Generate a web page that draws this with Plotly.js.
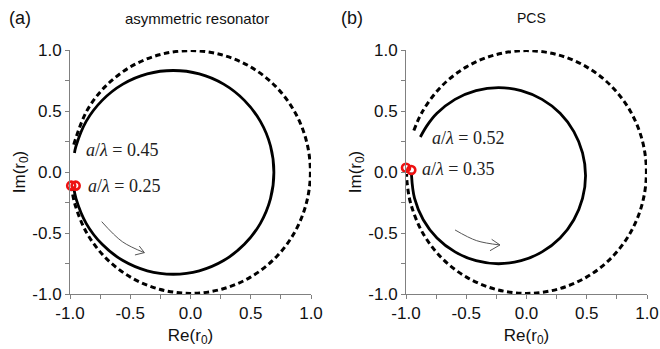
<!DOCTYPE html>
<html>
<head>
<meta charset="utf-8">
<script src="https://cdn.plot.ly/plotly-3.0.1.min.js"></script>
<style>html,body{margin:0;padding:0;background:#fff;}#chart{width:660px;height:349px;}</style>
</head>
<body>
<div id="chart"></div>
<script>
// ---- Data ----
// Panel (a): asymmetric resonator
const dashA_x = [-0.969,-0.862,-0.704,-0.498,-0.258,0.000,0.258,0.498,0.704,0.862,0.961,0.995,0.961,0.862,0.704,0.498,0.258,0.000,-0.258,-0.498,-0.704,-0.862,-0.961,-0.985];
const dashA_y = [0.224,0.498,0.704,0.862,0.961,0.995,0.961,0.862,0.704,0.498,0.258,0.000,-0.258,-0.498,-0.704,-0.862,-0.961,-0.995,-0.961,-0.862,-0.704,-0.498,-0.258,-0.138];
const solidA_x = [-0.970,-0.950,-0.866,-0.733,-0.561,-0.359,-0.143,0.073,0.275,0.447,0.580,0.664,0.692,0.664,0.580,0.447,0.275,0.073,-0.143,-0.359,-0.561,-0.733,-0.866,-0.950,-0.963];
const solidA_y = [-0.119,-0.219,-0.421,-0.593,-0.726,-0.810,-0.838,-0.810,-0.726,-0.593,-0.421,-0.219,-0.003,0.213,0.415,0.587,0.720,0.804,0.832,0.804,0.720,0.587,0.415,0.213,0.156];
const markA_x = [-0.990,-0.953];
const markA_y = [-0.112,-0.112];
const arrowA_x = [-0.737,-0.566,-0.383];
const arrowA_y = [-0.407,-0.571,-0.661];
const headA_x = [-0.425,-0.383,-0.461];
const headA_y = [-0.607,-0.661,-0.680];
const labelsA = ['<i>a</i>/<i>λ</i> = 0.45','<i>a</i>/<i>λ</i> = 0.25'];
const labelsA_x = [-0.880,-0.865];
const labelsA_y = [0.180,-0.112];

// Panel (b): PCS
const dashB_x = [-0.935,-0.862,-0.704,-0.498,-0.258,0.000,0.258,0.498,0.704,0.862,0.961,0.995,0.961,0.862,0.704,0.498,0.258,0.000,-0.258,-0.498,-0.704,-0.862,-0.961,-0.991,-0.995];
const dashB_y = [0.340,0.498,0.704,0.862,0.961,0.995,0.961,0.862,0.704,0.498,0.258,0.000,-0.258,-0.498,-0.704,-0.862,-0.961,-0.995,-0.961,-0.862,-0.704,-0.498,-0.258,-0.087,-0.017];
const solidB_x = [-0.954,-0.954,-0.929,-0.857,-0.743,-0.593,-0.419,-0.232,-0.045,0.129,0.279,0.393,0.465,0.490,0.465,0.393,0.279,0.129,-0.045,-0.232,-0.419,-0.593,-0.743,-0.823,-0.881];
const solidB_y = [-0.005,-0.030,-0.217,-0.391,-0.541,-0.655,-0.727,-0.752,-0.727,-0.655,-0.541,-0.391,-0.217,-0.030,0.157,0.331,0.481,0.595,0.667,0.692,0.667,0.595,0.481,0.384,0.287];
const markB_x = [-1.000,-0.956];
const markB_y = [0.035,0.016];
const arrowB_x = [-0.593,-0.413,-0.220];
const arrowB_y = [-0.475,-0.563,-0.598];
const headB_x = [-0.289,-0.220,-0.303];
const headB_y = [-0.552,-0.598,-0.645];
const labelsB = ['<i>a</i>/<i>λ</i> = 0.52','<i>a</i>/<i>λ</i> = 0.35'];
const labelsB_x = [-0.797,-0.880];
const labelsB_y = [0.276,0.022];

// Axis ticks
const tickVals = [-1.0,-0.5,0.0,0.5,1.0];
const tickText = ['-1.0','-0.5','0.0','0.5','1.0'];
const minorVals = [-0.75,-0.25,0.25,0.75];

const panelTitles = ['asymmetric resonator','PCS'];
const panelTags = ['(a)','(b)'];
const xTitle = 'Re(r<sub>0</sub>)';
const yTitle = 'Im(r<sub>0</sub>)';

// ---- Traces ----
function panelTraces(xa, ya, dx, dy, sx, sy, mx, my, ax, ay, hx, hy) {
  return [
    {x: dx, y: dy, xaxis: xa, yaxis: ya, mode: 'lines', line: {color: '#000', width: 3, dash: '5.5px,3.5px', shape: 'spline', smoothing: 1}, hoverinfo: 'skip'},
    {x: sx, y: sy, xaxis: xa, yaxis: ya, mode: 'lines', line: {color: '#000', width: 2.8, shape: 'spline', smoothing: 1}, hoverinfo: 'skip'},
    {x: ax, y: ay, xaxis: xa, yaxis: ya, mode: 'lines', line: {color: '#555', width: 1, shape: 'spline', smoothing: 1}, hoverinfo: 'skip'},
    {x: hx, y: hy, xaxis: xa, yaxis: ya, mode: 'lines', line: {color: '#555', width: 1}, hoverinfo: 'skip'},
    {x: mx, y: my, xaxis: xa, yaxis: ya, mode: 'markers', cliponaxis: false, marker: {symbol: 'circle-open', size: 8, color: '#ee1111', line: {width: 2.6, color: '#ee1111'}}, hoverinfo: 'skip'}
  ];
}
const data = [].concat(
  panelTraces('x', 'y', dashA_x, dashA_y, solidA_x, solidA_y, markA_x, markA_y, arrowA_x, arrowA_y, headA_x, headA_y),
  panelTraces('x2', 'y2', dashB_x, dashB_y, solidB_x, solidB_y, markB_x, markB_y, arrowB_x, arrowB_y, headB_x, headB_y)
);

// ---- Layout ----
const W = 660, H = 349;
const sans = 'Liberation Sans, Arial, sans-serif';
const serif = 'Liberation Serif, Times New Roman, serif';
const axisCommon = {
  range: [-1, 1], showline: true, linecolor: '#808080', linewidth: 1,
  ticks: 'outside', ticklen: 4, tickcolor: '#808080', tickwidth: 1,
  tickmode: 'array', tickvals: tickVals, ticktext: tickText,
  minor: {tickmode: 'array', tickvals: minorVals, ticks: 'outside', ticklen: 4, tickcolor: '#808080', tickwidth: 1},
  showgrid: false, zeroline: false, fixedrange: true, automargin: false,
  tickfont: {family: sans, size: 17, color: '#111'}
};
const xTitleObj = {text: xTitle, font: {family: sans, size: 17, color: '#111'}, standoff: 6};
const yTitleObj = {text: yTitle, font: {family: sans, size: 17, color: '#111'}, standoff: 2};
const yDom = [(H - 294) / H, (H - 50) / H];
const layout = {
  width: W, height: H, margin: {l: 0, r: 0, t: 0, b: 0},
  paper_bgcolor: '#fff', plot_bgcolor: 'rgba(0,0,0,0)', showlegend: false,
  xaxis: Object.assign({}, axisCommon, {domain: [70 / W, 311 / W], anchor: 'y', title: xTitleObj}),
  yaxis: Object.assign({}, axisCommon, {domain: yDom, anchor: 'x', title: yTitleObj}),
  xaxis2: Object.assign({}, axisCommon, {domain: [406 / W, 647 / W], anchor: 'y2', title: xTitleObj}),
  yaxis2: Object.assign({}, axisCommon, {domain: yDom, anchor: 'x2', title: yTitleObj}),
  annotations: []
};
function addLabels(xr, yr, texts, xs, ys) {
  texts.forEach((t, i) => layout.annotations.push({
    xref: xr, yref: yr, x: xs[i], y: ys[i], text: t, showarrow: false,
    xanchor: 'left', yanchor: 'middle', font: {family: serif, size: 18, color: '#222'}
  }));
}
addLabels('x', 'y', labelsA, labelsA_x, labelsA_y);
addLabels('x2', 'y2', labelsB, labelsB_x, labelsB_y);
function paperText(text, px, py, size, opts) {
  layout.annotations.push(Object.assign({
    xref: 'paper', yref: 'paper', x: px / W, y: 1 - py / H, text: text, showarrow: false,
    xanchor: 'center', yanchor: 'middle', font: {family: sans, size: size, color: '#111'}
  }, opts || {}));
}
paperText(panelTags[0], 7, 18, 18, {xanchor: 'left'});
paperText(panelTags[1], 339, 18, 18, {xanchor: 'left'});
paperText(panelTitles[0], 197, 18, 15);
paperText(panelTitles[1], 531, 18, 14);

Plotly.newPlot('chart', data, layout, {displayModeBar: false, staticPlot: true});
</script>
</body>
</html>
